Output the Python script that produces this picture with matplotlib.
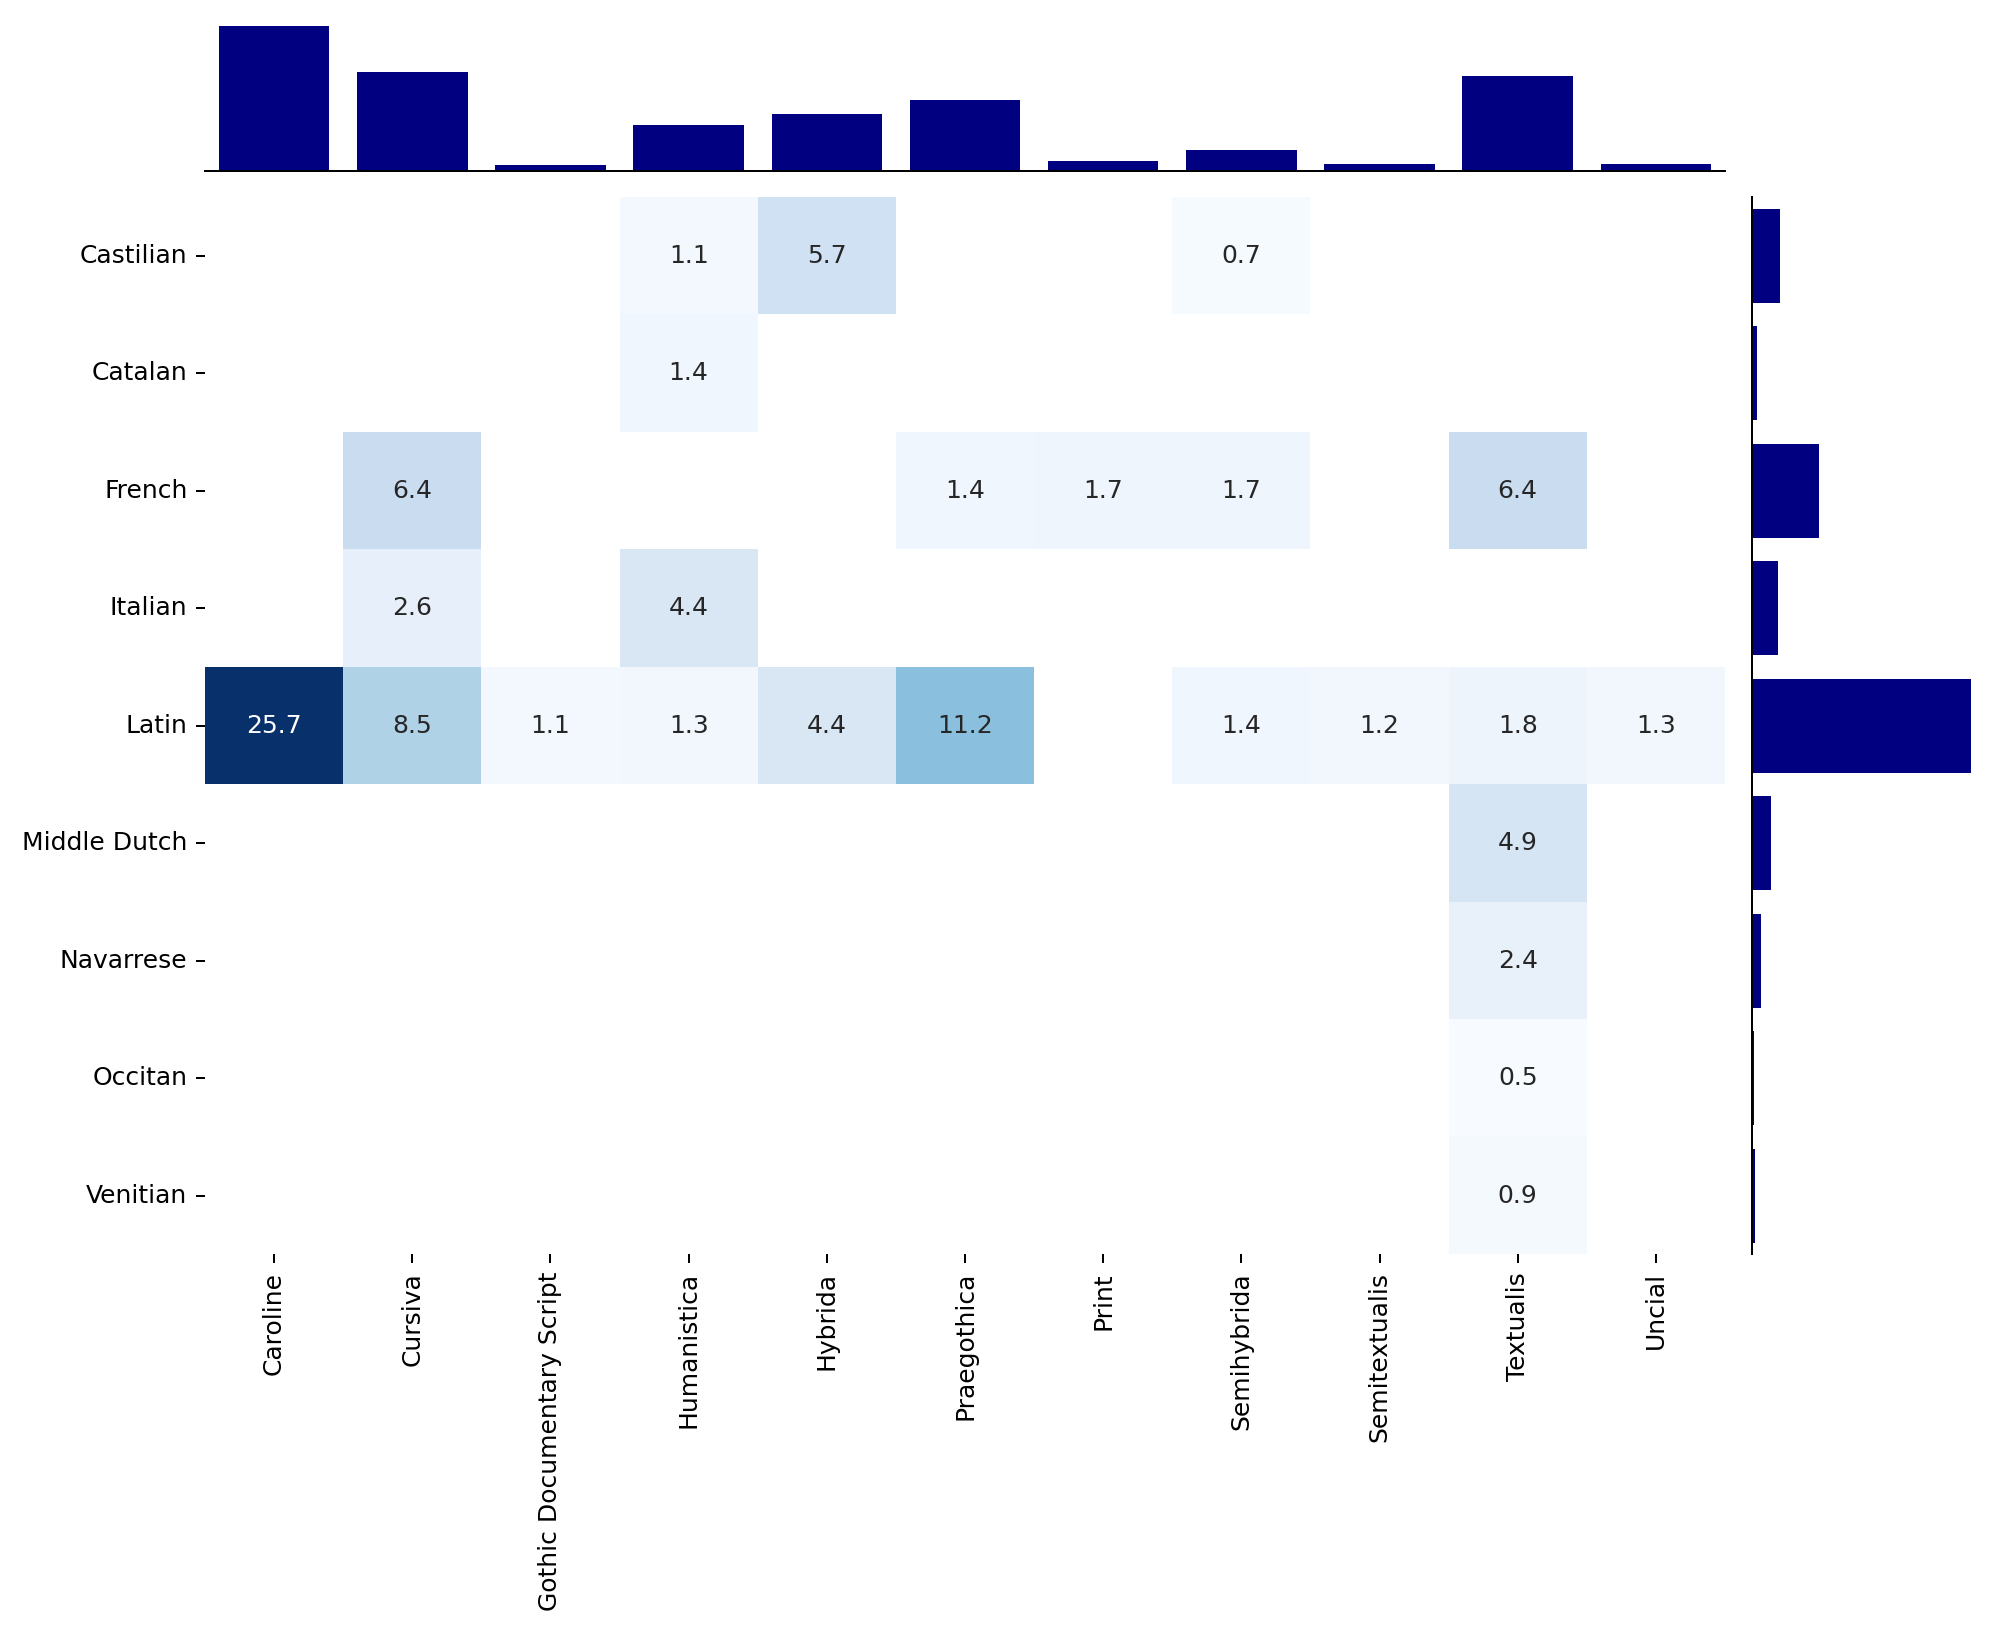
import numpy as np
import matplotlib
matplotlib.use("Agg")
import matplotlib.pyplot as plt
import seaborn as sns

languages = ['Castilian', 'Catalan', 'French', 'Italian', 'Latin',
             'Middle Dutch', 'Navarrese', 'Occitan', 'Venitian']
scripts = ['Caroline', 'Cursiva', 'Gothic Documentary Script', 'Humanistica',
           'Hybrida', 'Praegothica', 'Print', 'Semihybrida', 'Semitextualis',
           'Textualis', 'Uncial']

# percentages per language (rows) and script (columns)
castilian = [0, 0, 0, 1.1, 5.7, 0, 0, 0.7, 0, 0, 0]
catalan = [0, 0, 0, 1.4, 0, 0, 0, 0, 0, 0, 0]
french = [0, 6.4, 0, 0, 0, 1.4, 1.7, 1.7, 0, 6.4, 0]
italian = [0, 2.6, 0, 4.4, 0, 0, 0, 0, 0, 0, 0]
latin = [25.7, 8.5, 1.1, 1.3, 4.4, 11.2, 0, 1.4, 1.2, 1.8, 1.3]
middle_dutch = [0, 0, 0, 0, 0, 0, 0, 0, 0, 4.9, 0]
navarrese = [0, 0, 0, 0, 0, 0, 0, 0, 0, 2.4, 0]
occitan = [0, 0, 0, 0, 0, 0, 0, 0, 0, 0.5, 0]
venitian = [0, 0, 0, 0, 0, 0, 0, 0, 0, 0.9, 0]

data = np.array([castilian, catalan, french, italian, latin,
                 middle_dutch, navarrese, occitan, venitian])
col_tot = data.sum(axis=0)
row_tot = data.sum(axis=1)

fig = plt.figure(figsize=(2000 / 180, 1633 / 180), dpi=180)
ax = fig.add_axes([0.1025, 0.2318, 0.76, 0.6476])
ax_top = fig.add_axes([0.1025, 0.8953, 0.76, 0.0933])
ax_right = fig.add_axes([0.876, 0.2318, 0.115, 0.6476])

sns.heatmap(data, mask=(data == 0), cmap='Blues', annot=True, fmt='.1f',
            cbar=False, xticklabels=scripts, yticklabels=languages, ax=ax)
ax.set_yticklabels(languages, rotation=0)
ax.set_xticklabels(scripts, rotation=90)

ax_top.bar(np.arange(len(scripts)) + 0.5, col_tot, width=0.8, color='navy')
ax_top.set_xlim(0, len(scripts))
ax_top.set_xticks([])
ax_top.set_yticks([])
for s in ['top', 'left', 'right']:
    ax_top.spines[s].set_visible(False)

ax_right.barh(np.arange(len(languages)) + 0.5, row_tot, height=0.8, color='navy')
ax_right.set_ylim(len(languages), 0)
ax_right.set_xticks([])
ax_right.set_yticks([])
for s in ['top', 'bottom', 'right']:
    ax_right.spines[s].set_visible(False)

fig.savefig('out.png')
